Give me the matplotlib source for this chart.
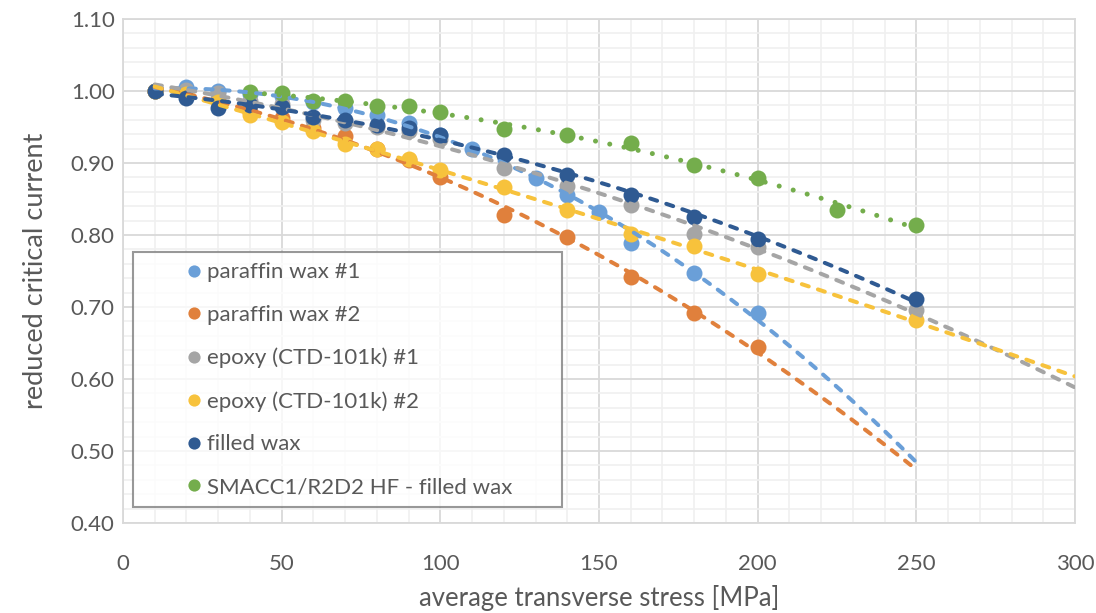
import numpy as np
import matplotlib
matplotlib.use("Agg")
import matplotlib.pyplot as plt
from matplotlib.lines import Line2D
from matplotlib.ticker import MultipleLocator, FormatStrFormatter

# Reduced critical current vs. average transverse stress [MPa]
pw1_x = [10, 20, 30, 40, 50, 60, 70, 80, 90, 100, 110, 130, 140, 150, 160, 180, 200]
pw1_y = [1.000, 1.006, 1.000, 0.996, 0.993, 0.985, 0.976, 0.967, 0.956, 0.939, 0.920,
         0.879, 0.856, 0.832, 0.789, 0.747, 0.691]

pw2_x = [10, 20, 30, 40, 50, 60, 70, 80, 90, 100, 120, 140, 160, 180, 200]
pw2_y = [1.000, 0.995, 0.988, 0.971, 0.963, 0.948, 0.937, 0.919, 0.904, 0.880, 0.828,
         0.797, 0.742, 0.691, 0.644]

ep1_x = [10, 20, 30, 40, 50, 60, 70, 80, 90, 100, 120, 140, 160, 180, 200, 250]
ep1_y = [1.000, 1.001, 0.997, 0.986, 0.982, 0.960, 0.955, 0.950, 0.944, 0.933, 0.893,
         0.868, 0.841, 0.801, 0.783, 0.696]

ep2_x = [10, 20, 30, 40, 50, 60, 70, 80, 90, 100, 120, 140, 160, 180, 200, 250]
ep2_y = [1.000, 0.996, 0.985, 0.966, 0.957, 0.945, 0.927, 0.919, 0.905, 0.890, 0.866,
         0.835, 0.802, 0.785, 0.746, 0.682]

fw_x = [10, 20, 30, 40, 50, 60, 70, 80, 90, 100, 120, 140, 160, 180, 200, 250]
fw_y = [1.000, 0.990, 0.977, 0.980, 0.978, 0.964, 0.960, 0.953, 0.948, 0.939, 0.911,
        0.884, 0.856, 0.825, 0.795, 0.711]

hf_x = [40, 50, 60, 70, 80, 90, 100, 120, 140, 160, 180, 200, 225, 250]
hf_y = [0.998, 0.997, 0.986, 0.986, 0.979, 0.979, 0.971, 0.947, 0.939, 0.928, 0.897,
        0.879, 0.835, 0.814]

labels = ["paraffin wax #1", "paraffin wax #2", "epoxy (CTD-101k) #1",
          "epoxy (CTD-101k) #2", "filled wax", "SMACC1/R2D2 HF - filled wax"]
colors = ["#6A9FD8", "#E0803C", "#A5A5A5", "#F7C23C", "#2F5A92", "#74AD4C"]
# end of each polynomial trend line (forecast beyond the last point)
trend_end = [250, 250, 300, 300, 250, 250]

series = [(pw1_x, pw1_y), (pw2_x, pw2_y), (ep1_x, ep1_y),
          (ep2_x, ep2_y), (fw_x, fw_y), (hf_x, hf_y)]

plt.rcParams["font.family"] = ["Lato", "DejaVu Sans"]
text_color = "#595959"

fig = plt.figure(figsize=(10.96, 6.13), dpi=100)
ax = fig.add_axes([123 / 1096, 1 - 523 / 613, 952 / 1096, 504 / 613])

for i, ((xs, ys), col) in enumerate(zip(series, colors)):
    ax.plot(xs, ys, linestyle="none", marker="o", markersize=11.5,
            color=col, markeredgewidth=0, zorder=3 + i * 0.01)

for i, ((xs, ys), col, xe) in enumerate(zip(series, colors, trend_end)):
    coef = np.polyfit(xs, ys, 2)
    xt = np.linspace(min(xs), xe, 200)
    yt = np.polyval(coef, xt)
    if i == 5:
        ls = (0, (0.01, 2.9))
        lw = 3.6
    else:
        ls = (0, (1.8, 2.4))
        lw = 2.9
    ax.plot(xt, yt, color=col, linestyle=ls, linewidth=lw,
            dash_capstyle="round", zorder=4 + i * 0.01)

ax.set_xlim(0, 300)
ax.set_ylim(0.40, 1.10)
ax.xaxis.set_major_locator(MultipleLocator(50))
ax.xaxis.set_minor_locator(MultipleLocator(10))
ax.yaxis.set_major_locator(MultipleLocator(0.1))
ax.yaxis.set_minor_locator(MultipleLocator(0.02))
ax.yaxis.set_major_formatter(FormatStrFormatter("%.2f"))
ax.grid(which="major", color="#D9D9D9", linewidth=1.3, zorder=0)
ax.grid(which="minor", color="#F0F0F0", linewidth=1.2, zorder=0)
ax.set_axisbelow(True)
for sp in ax.spines.values():
    sp.set_color("#D9D9D9")
    sp.set_linewidth(1.3)
ax.tick_params(which="both", length=0)
ax.tick_params(axis="x", pad=22, labelsize=16, labelcolor=text_color)
ax.tick_params(axis="y", pad=6, labelsize=16, labelcolor=text_color)

ax.set_xlabel("average transverse stress [MPa]", fontsize=18.5, color=text_color, labelpad=8)
ax.set_ylabel("reduced critical current", fontsize=19.5, color=text_color, labelpad=16)

handles = [Line2D([], [], linestyle="none", marker="o", markersize=8.8,
                  color=c, markeredgewidth=0) for c in colors]
leg = ax.legend(handles, labels, loc="lower left", mode="expand",
                bbox_to_anchor=(10 / 952, 16 / 504, 429 / 952, 0.3), fontsize=16,
                frameon=True, fancybox=False, borderpad=0.45,
                handlelength=4.6, handletextpad=-1.7, labelspacing=1.02,
                borderaxespad=0)
leg.get_frame().set_edgecolor("#7F7F7F")
leg.get_frame().set_linewidth(1.5)
for t in leg.get_texts():
    t.set_color(text_color)
leg.set_zorder(10)

fig.savefig("out.png", dpi=100)
